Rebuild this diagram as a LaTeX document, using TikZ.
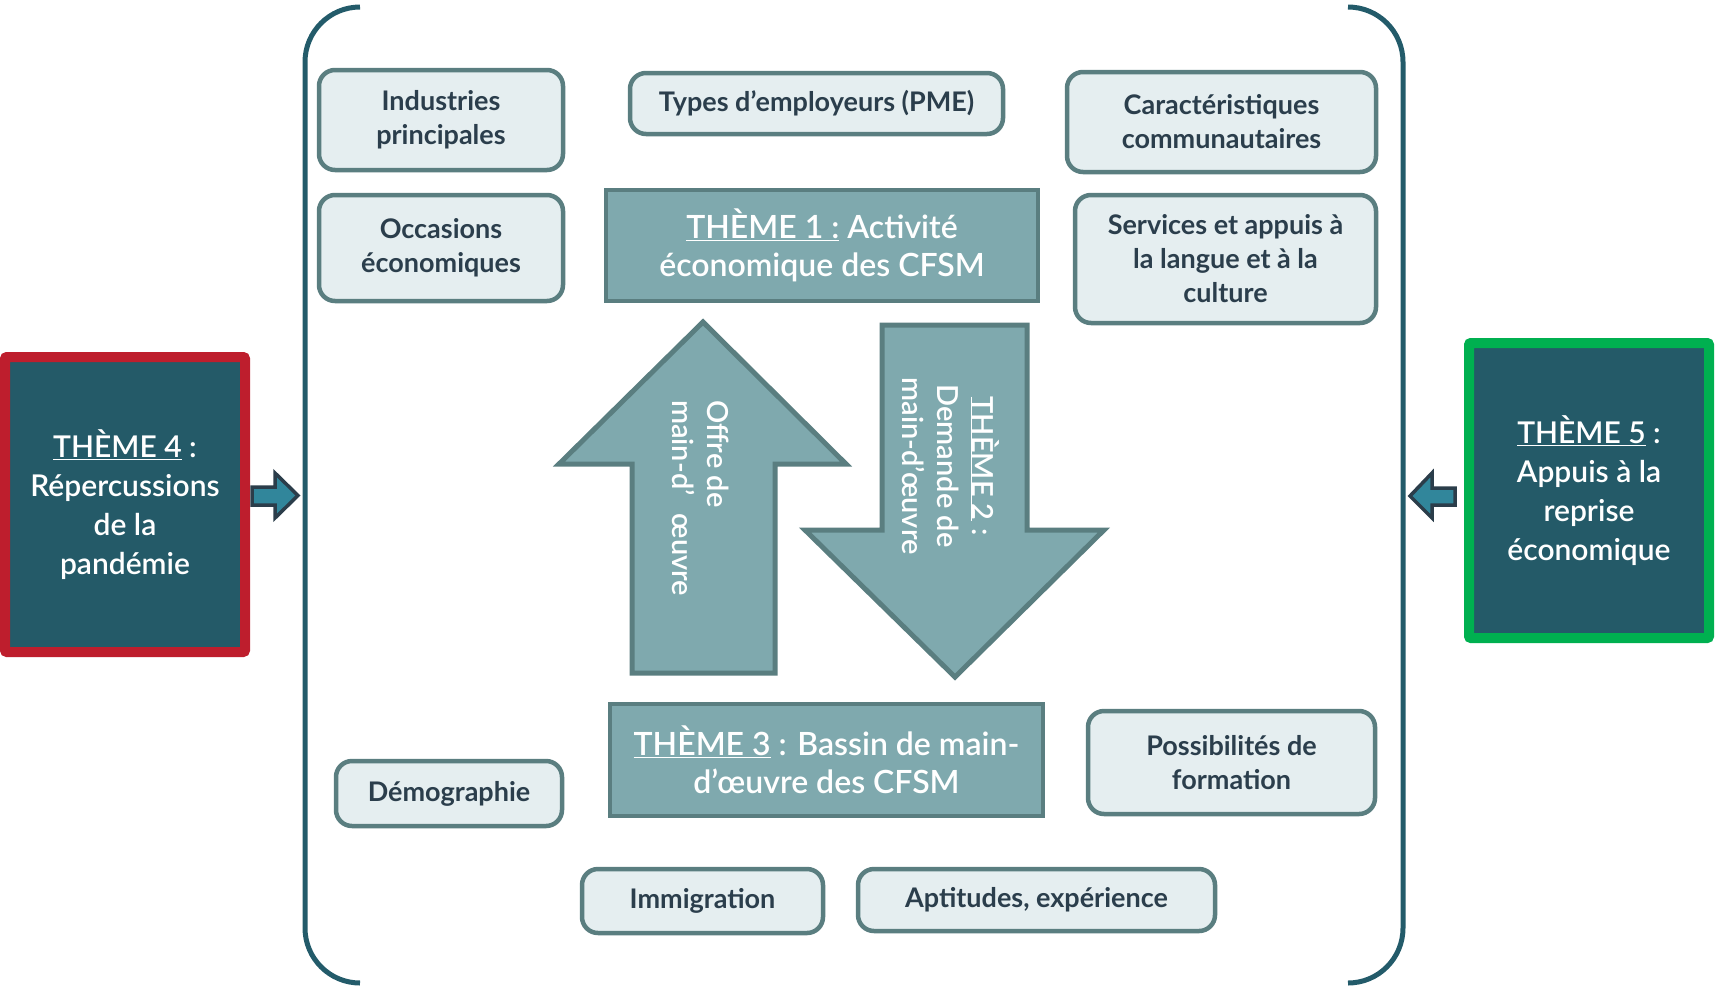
\documentclass[tikz,border=0pt]{standalone}
\usepackage{fontspec}
\setmainfont{Lato}
\IfFontExistsTF{Lato Semibold}{\newfontfamily\semib{Lato Semibold}}{\newcommand\semib{}}
\definecolor{brkc}{HTML}{235B6A}
\definecolor{darkc}{HTML}{245A68}
\definecolor{redc}{HTML}{BE1E2D}
\definecolor{greenc}{HTML}{00B050}
\definecolor{midc}{HTML}{7FA9AE}
\definecolor{strokec}{HTML}{5A7E80}
\definecolor{lightc}{HTML}{E5EEF0}
\definecolor{textc}{HTML}{2B3E4C}
\definecolor{sarrowfill}{HTML}{31869B}
\definecolor{sarrowline}{HTML}{2B3D4A}
\tikzset{
  sbox/.style={draw=strokec, line width=4.5pt, fill=lightc, rounded corners=16pt, text=textc,
    font=\bfseries\fontsize{27}{34}\selectfont, align=center, inner sep=0pt},
  tbox/.style={draw=strokec, line width=4.5pt, fill=midc, text=white,
    font=\semib\fontsize{32}{38}\selectfont, align=center, inner sep=0pt},
  sidebox/.style={line width=10pt, fill=darkc, text=white, rounded corners=2pt,
    font=\semib\fontsize{30}{39}\selectfont, align=center, inner sep=0pt,
    minimum width=240pt, minimum height=295pt},
  brk/.style={draw=brkc, line width=5pt, rounded corners=55pt},
  bigarrow/.style={draw=strokec, line width=5pt, fill=midc, line join=miter},
  smallarrow/.style={draw=sarrowline, line width=3.5pt, fill=sarrowfill, line join=miter},
  arrowtext/.style={text=white, font=\semib\fontsize{29}{35}\selectfont, rotate=-90, inner sep=0pt}
}
\begin{document}
\begin{tikzpicture}[x=1pt,y=-1pt]
\useasboundingbox (0,0) rectangle (1715,988);
% brackets
\draw[brk] (360,7) -- (305,7) -- (305,983) -- (360,983);
\draw[brk] (1348,7) -- (1403,7) -- (1403,983) -- (1348,983);
% big arrows
\draw[bigarrow] (703,322) -- (846,464) -- (775,464) -- (775,673) -- (632,673) -- (632,464) -- (559,464) -- cycle;
\draw[bigarrow] (882,325) -- (1027,325) -- (1027,530) -- (1104,530) -- (955,677) -- (805,530) -- (882,530) -- cycle;
\node[arrowtext, align=left] (offre) at (701,498) {Offre de\\main-d’\hspace{18pt}œuvre};
\node[arrowtext, align=center] (demande) at (951,466) {\underline{THÈME 2} :\\Demande de\\main-d’œuvre};
% small boxes
\node[sbox, minimum width=244pt, minimum height=100pt] (ind) at (441,120) {Industries\\principales};
\node[sbox, minimum width=244pt, minimum height=106pt] (occ) at (441,248) {Occasions\\économiques};
\node[sbox, minimum width=373pt, minimum height=61pt] (types) at (816.5,103.5) {Types d’employeurs (PME)};
\node[sbox, minimum width=309pt, minimum height=100pt] (cara) at (1221.5,122) {Caractéristiques\\communautaires};
\node[sbox, minimum width=301pt, minimum height=128pt] (serv) at (1225.5,259) {Services et appuis à\\la langue et à la\\culture};
\node[sbox, minimum width=226pt, minimum height=65pt] (demo) at (449,793.5) {Démographie};
\node[sbox, minimum width=287pt, minimum height=103pt] (poss) at (1231.5,762.5) {Possibilités de\\formation};
\node[sbox, minimum width=241pt, minimum height=64pt] (immi) at (702.5,901) {Immigration};
\node[sbox, minimum width=357pt, minimum height=62pt] (apti) at (1036.5,900) {Aptitudes, expérience};
% theme boxes
\node[tbox, minimum width=432pt, minimum height=111pt] (t1) at (822,245.5) {\underline{THÈME 1 :} Activité\\économique des CFSM};
\node[tbox, minimum width=433pt, minimum height=112pt] (t3) at (826.5,760) {\underline{THÈME 3} : Bassin de main-\\d’œuvre des CFSM};
\node[sidebox, draw=redc] (t4) at (125,504.5) {\underline{THÈME 4} :\\Répercussions\\de la\\pandémie};
\node[sidebox, draw=greenc] (t5) at (1589,490.5) {\underline{THÈME 5} :\\Appuis à la\\reprise\\économique};
% small arrows
\draw[smallarrow] (252,487) -- (275,487) -- (275,473) -- (298,495.5) -- (275,518) -- (275,505) -- (252,505) -- cycle;
\draw[smallarrow] (1455,488) -- (1432,488) -- (1432,473) -- (1410,496) -- (1432,518) -- (1432,505) -- (1455,505) -- cycle;
\end{tikzpicture}
\end{document}
